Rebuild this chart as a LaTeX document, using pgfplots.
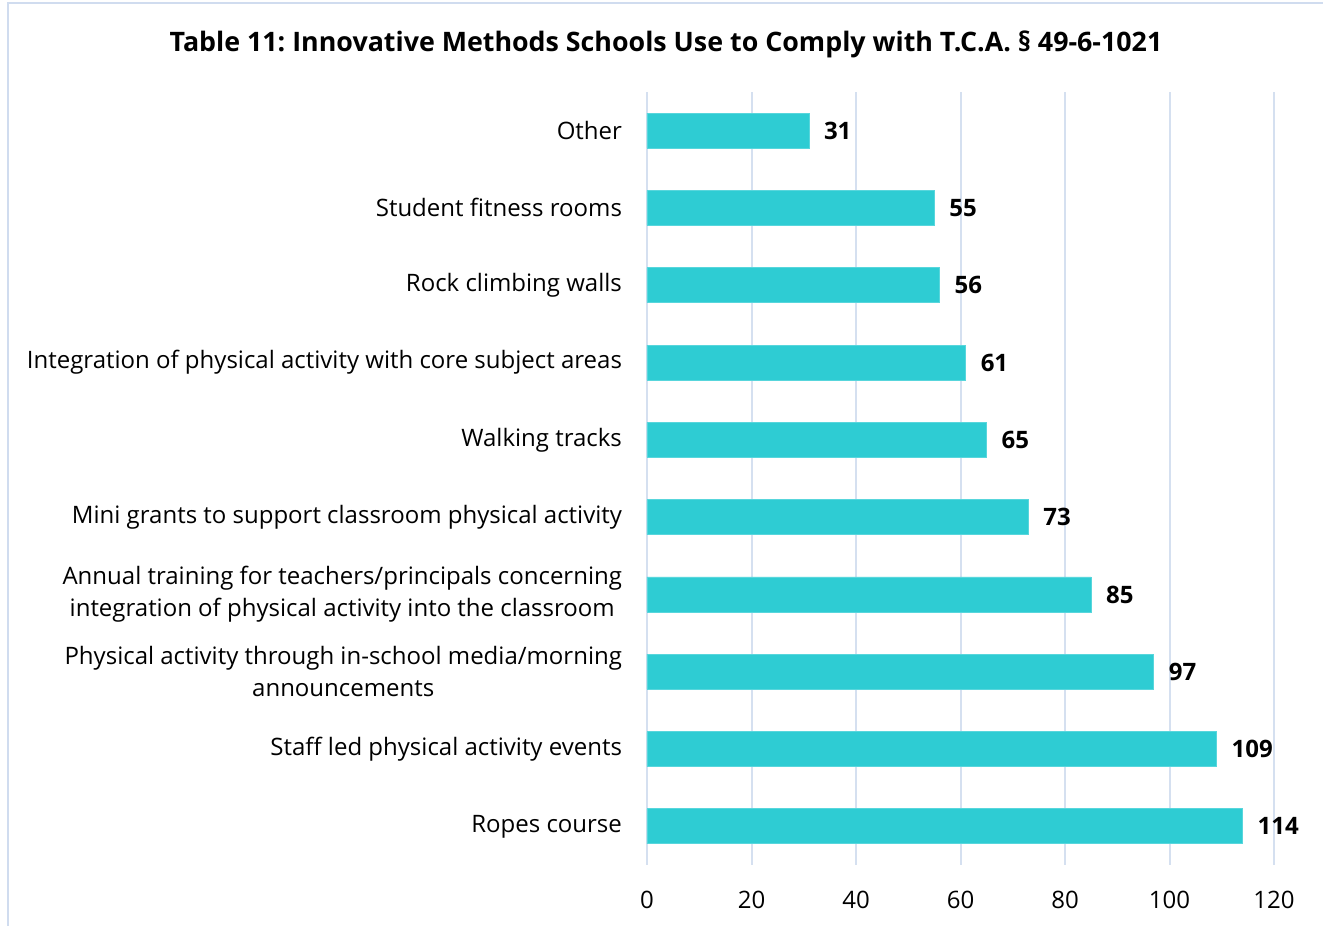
\documentclass[border=0pt]{standalone}
\usepackage{pgfplots}
\pgfplotsset{compat=1.18}
\usepackage{fontspec}
\setmainfont{Open Sans}
\definecolor{barc}{HTML}{2ECCD3}
\definecolor{gridc}{HTML}{D5E0F0}
\definecolor{framec}{HTML}{D0DCEF}
\frenchspacing
\begin{document}
\begin{tikzpicture}
\path[use as bounding box] (0pt,0pt) rectangle (661.5pt,463pt);
\draw[framec, line width=1pt] (4pt,0pt) -- (4pt,461.5pt) -- (661.5pt,461.5pt);
\node[font=\bfseries\fontsize{13.4}{15}\selectfont] at (333pt,441pt) {Table 11: Innovative Methods Schools Use to Comply with T.C.A. § 49-6-1021};
\begin{axis}[
  at={(323.5pt,30.5pt)}, anchor=south west,
  scale only axis, width=313.5pt, height=386.5pt,
  xbar, bar width=17.5pt,
  xmin=0, xmax=120, ymin=-0.5, ymax=9.5,
  xtick={0,20,...,120},
  ytick={0,...,9},
  yticklabels={Ropes course, Staff led physical activity events, {Physical activity through in-school media/morning\\announcements}, {Annual training for teachers/principals concerning\\integration of physical activity into the classroom}, Mini grants to support classroom physical activity, Walking tracks, Integration of physical activity with core subject areas, Rock climbing walls, Student fitness rooms, Other},
  yticklabel style={align=center, font=\fontsize{12}{16}\selectfont, xshift=-9pt},
  xticklabel style={font=\fontsize{12}{14}\selectfont, yshift=-9.5pt},
  /pgf/number format/assume math mode=true,
  axis line style={draw=none},
  major tick length=0pt,
  xmajorgrids, grid style={gridc, line width=1pt},
  nodes near coords,
  nodes near coords style={font=\bfseries\fontsize{12}{14}\selectfont, black, xshift=4pt},
  point meta=x,
]
\addplot[fill=barc, draw=barc!80!white] coordinates {
(114,0) (109,1) (97,2) (85,3) (73,4) (65,5) (61,6) (56,7) (55,8) (31,9)};
\end{axis}
\end{tikzpicture}
\end{document}
